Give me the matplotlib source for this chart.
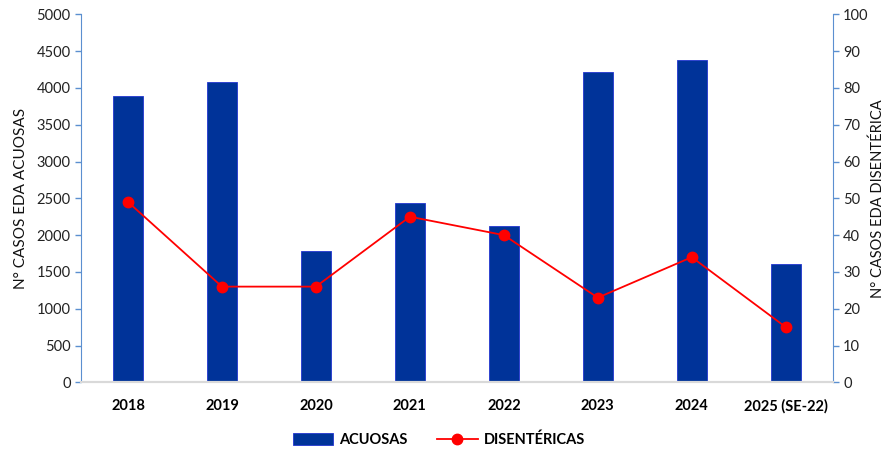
import numpy as np
import matplotlib
matplotlib.use("Agg")
import matplotlib.pyplot as plt

plt.rcParams['font.family'] = ['Lato', 'DejaVu Sans']

# Casos de EDA por año
years        = ['2018', '2019', '2020', '2021', '2022', '2023', '2024', '2025 (SE-22)']
acuosas      = [3890, 4080, 1780, 2440, 2130, 4220, 4380, 1610]
disentericas = [49, 26, 26, 45, 40, 23, 34, 15]

barColor  = '#003399'
lineColor = '#ff0000'
axisBlue  = '#5b8fd0'

fig = plt.figure(figsize=(8.86, 4.51), dpi=100)
ax  = fig.add_axes([81/886, (451-382.3)/451, (832.7-81)/886, (382.3-14.3)/451])
ax2 = ax.twinx()

x = np.arange(len(years))
ax.bar(x, acuosas, width=0.32, color=barColor, edgecolor='#2235d0', linewidth=0.6,
       label='ACUOSAS', zorder=2)
ax2.plot(x, disentericas, color=lineColor, linewidth=1.3, marker='o', markersize=7.5,
         label='DISENTÉRICAS', zorder=3)

ax.set_xlim(-0.5, len(years) - 0.5)
ax.set_ylim(0, 5000)
ax.set_yticks(np.arange(0, 5001, 500))
ax2.set_ylim(0, 100)
ax2.set_yticks(np.arange(0, 101, 10))

ax.set_xticks(x)
ax.set_xticklabels(years, fontweight='bold', fontsize=10.5)
ax.tick_params(axis='x', length=0, pad=12)
ax.tick_params(axis='y', labelsize=10.5, colors=axisBlue, labelcolor='#222222', length=4, width=1)
ax2.tick_params(axis='y', labelsize=10.5, colors=axisBlue, labelcolor='#222222', length=4, width=1)

for a in (ax, ax2):
    a.spines['top'].set_visible(False)
    a.spines['left'].set_color(axisBlue)
    a.spines['right'].set_color(axisBlue)
    a.spines['bottom'].set_color('#d9d9d9')
    a.spines['bottom'].set_linewidth(1.5)
ax.spines['right'].set_visible(False)
ax2.spines['left'].set_visible(False)

ax.set_ylabel('N° CASOS EDA ACUOSAS', fontsize=11, color='#111111', labelpad=6)
ax2.set_ylabel('N° CASOS EDA DISENTÉRICA', fontsize=10.5, color='#111111', labelpad=1.5)

h1, l1 = ax.get_legend_handles_labels()
h2, l2 = ax2.get_legend_handles_labels()
fig.legend(h1 + h2, l1 + l2, loc='center', bbox_to_anchor=(0.495, (451-440)/451), ncol=2,
           frameon=False, prop={'size': 10.5, 'weight': 'bold'}, handlelength=2.8,
           handleheight=0.9, columnspacing=2.0, handletextpad=0.4)

fig.savefig('out.png', dpi=100)
